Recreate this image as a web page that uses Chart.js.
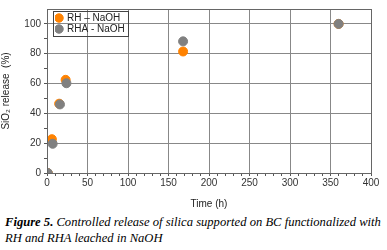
<!DOCTYPE html>
<html>
<head>
<meta charset="utf-8">
<script src="https://cdn.jsdelivr.net/npm/chart.js@4"></script>
<style>
  body { margin: 0; background: #fff; }
  #wrap { width: 387px; height: 210px; position: relative; }
  #caption {
    font-family: "Liberation Serif", serif; font-style: italic; font-size: 12.6px;
    line-height: 16px; margin: 4px 0 0 5px; width: 382px; color: #000;
  }
</style>
</head>
<body>
<div id="wrap"><canvas id="chart"></canvas></div>
<div id="caption"><b>Figure 5.</b> Controlled release of silica supported on BC functionalized with RH and RHA leached in NaOH</div>
<script>
const rhTime = [1, 6, 15, 23, 168, 360];
const rhRelease = [0, 22.7, 46.5, 62.5, 81.5, 100];
const rhaTime = [1, 7, 16, 24, 168, 360];
const rhaRelease = [0, 19.6, 46, 60.2, 88.3, 100];
const xTicks = [0, 50, 100, 150, 200, 250, 300, 350, 400];
const yTicks = [0, 20, 40, 60, 80, 100];

const toPoints = (xs, ys) => xs.map((x, i) => ({ x: x, y: ys[i] }));

// frame on top/right + box around the legend
const framePlugin = {
  id: 'frame',
  afterLayout(chart) {
    // move the legend a bit inside the plot area
    const lg = chart.legend, a = chart.chartArea;
    const h = lg.height, w = lg.width;
    lg.top = a.top + 3; lg.bottom = lg.top + h;
    lg.left = a.left + 8; lg.right = lg.left + w;
  },
  afterDraw(chart) {
    const ctx = chart.ctx, a = chart.chartArea;
    ctx.save();
    ctx.strokeStyle = '#666';
    ctx.lineWidth = 1;
    ctx.strokeRect(a.left + 0.5, a.top + 0.5, a.right - a.left, a.bottom - a.top);
    const hb = chart.legend.legendHitBoxes;
    if (hb && hb.length) {
      const l = Math.min(...hb.map(h => h.left)) - 3;
      const t = Math.min(...hb.map(h => h.top)) - 2;
      const r = Math.max(...hb.map(h => h.left + h.width)) + 3;
      const b = Math.max(...hb.map(h => h.top + h.height)) + 2;
      ctx.strokeStyle = '#444';
      ctx.strokeRect(Math.round(l) + 0.5, Math.round(t) + 0.5, Math.round(r - l), Math.round(b - t));
    }
    ctx.restore();
  }
};

new Chart(document.getElementById('chart'), {
  type: 'scatter',
  data: {
    datasets: [
      {
        label: 'RH – NaOH',
        data: toPoints(rhTime, rhRelease),
        backgroundColor: '#ff8200',
        borderColor: '#ff8200',
        pointRadius: 4.5,
        order: 2
      },
      {
        label: 'RHA - NaOH',
        data: toPoints(rhaTime, rhaRelease),
        backgroundColor: '#808080',
        borderColor: '#808080',
        pointRadius: 4.5,
        order: 1
      }
    ]
  },
  options: {
    responsive: true,
    maintainAspectRatio: false,
    animation: false,
    layout: { padding: { left: 0, right: 16, top: 7, bottom: 0 } },
    plugins: {
      legend: {
        position: 'chartArea',
        align: 'start',
        labels: {
          usePointStyle: true,
          pointStyle: 'circle',
          boxWidth: 6,
          boxHeight: 6,
          padding: 1,
          color: '#222',
          font: { family: 'Liberation Sans', size: 10 },
          sort: (a, b) => a.datasetIndex - b.datasetIndex
        }
      },
      tooltip: { enabled: false }
    },
    scales: {
      x: {
        type: 'linear',
        min: 0,
        max: 400,
        afterBuildTicks: (s) => { s.ticks = []; for (let v = 0; v <= 400; v += 10) s.ticks.push({ value: v }); },
        afterFit: (s) => { s.height = 37; },
        ticks: {
          autoSkip: false,
          maxRotation: 0,
          padding: 1,
          color: '#333',
          font: { family: 'Liberation Sans', size: 10 },
          callback: (v) => xTicks.includes(v) ? v : ''
        },
        grid: {
          color: (c) => (c.tick && xTicks.includes(c.tick.value) && c.tick.value > 0 && c.tick.value < 400) ? '#888' : 'rgba(0,0,0,0)',
          borderDash: [1, 2],
          tickColor: '#555',
          tickLength: 3,
          tickBorderDash: []
        },
        border: { display: true, color: '#666' },
        title: {
          display: true,
          text: 'Time (h)',
          color: '#222',
          padding: { top: 6, bottom: 0 },
          font: { family: 'Liberation Sans', size: 10 }
        }
      },
      y: {
        min: 0,
        max: 110,
        afterBuildTicks: (s) => { s.ticks = []; for (let v = 0; v <= 100; v += 10) s.ticks.push({ value: v }); },
        afterFit: (s) => { s.width = 47; },
        ticks: {
          autoSkip: false,
          padding: 3,
          color: '#333',
          font: { family: 'Liberation Sans', size: 10 },
          callback: (v) => yTicks.includes(v) ? v : ''
        },
        grid: {
          color: (c) => (c.tick && yTicks.includes(c.tick.value) && c.tick.value > 0) ? '#888' : 'rgba(0,0,0,0)',
          borderDash: [1, 2],
          tickColor: '#555',
          tickLength: 3,
          tickBorderDash: []
        },
        border: { display: true, color: '#666' },
        title: {
          display: true,
          text: 'SiO₂ release  (%)',
          color: '#222',
          padding: { top: 0, bottom: 4 },
          font: { family: 'Liberation Sans', size: 10 }
        }
      }
    }
  },
  plugins: [framePlugin]
});
</script>
</body>
</html>
